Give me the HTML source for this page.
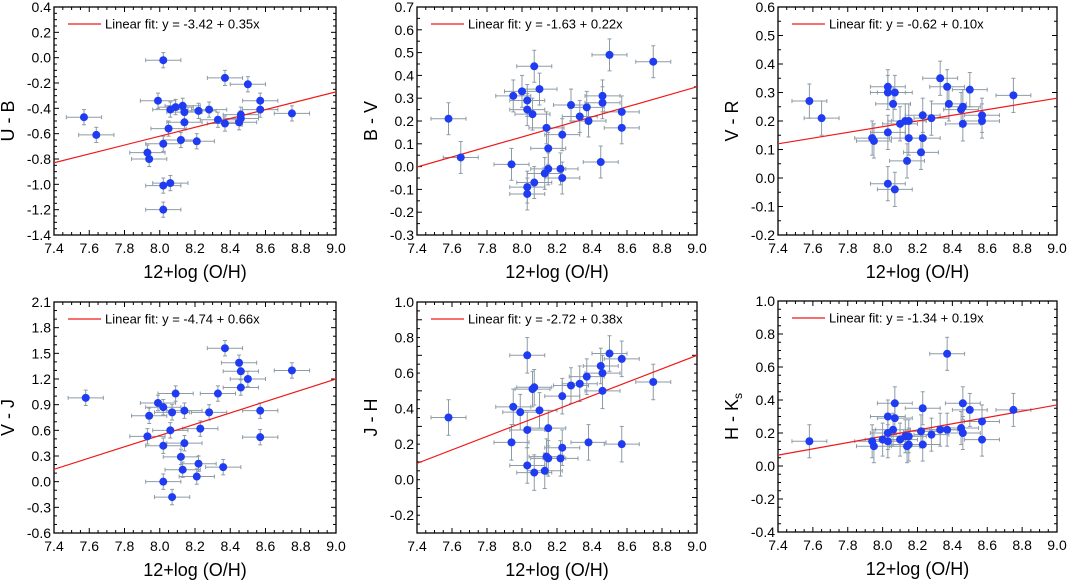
<!DOCTYPE html>
<html><head><meta charset="utf-8">
<style>
html,body{margin:0;padding:0;background:#fff;}
svg{display:block;font-family:"Liberation Sans",Arial,sans-serif;}
</style></head>
<body>
<svg id="fig" width="1068" height="582" viewBox="0 0 1068 582" xmlns="http://www.w3.org/2000/svg"></svg>
<script>
// ---- data ----
const ubX=[7.57,7.64,8.02,7.99,8.37,8.50,8.57,8.57,8.75,8.06,8.09,8.13,8.14,8.14,8.22,8.28,8.33,8.37,8.45,8.46,8.46,8.05,8.02,8.12,8.21,7.93,7.94,8.02,8.06,8.02];
const ubY=[-0.47,-0.61,-0.02,-0.34,-0.16,-0.21,-0.34,-0.41,-0.44,-0.41,-0.39,-0.38,-0.43,-0.51,-0.42,-0.41,-0.49,-0.52,-0.51,-0.45,-0.48,-0.56,-0.68,-0.65,-0.66,-0.75,-0.80,-1.01,-0.99,-1.20];
const bvX=[7.58,7.65,8.07,8.50,8.75,7.95,8.00,8.03,8.03,8.06,8.10,8.14,8.23,8.28,8.33,8.37,8.38,8.46,8.46,8.57,8.57,8.15,8.45,7.94,8.15,8.13,8.22,8.23,8.07,8.03,8.03];
const bvY=[0.21,0.04,0.44,0.49,0.46,0.31,0.33,0.29,0.25,0.23,0.34,0.17,0.14,0.27,0.22,0.26,0.20,0.31,0.28,0.24,0.17,0.08,0.02,0.01,-0.01,-0.03,-0.01,-0.05,-0.07,-0.09,-0.12];
const vrX=[7.58,7.65,8.03,8.03,8.07,8.06,7.94,7.95,8.03,8.10,8.13,8.15,8.15,8.14,8.23,8.23,8.22,8.28,8.33,8.37,8.38,8.45,8.46,8.46,8.50,8.57,8.57,8.75,8.03,8.07];
const vrY=[0.27,0.21,0.32,0.30,0.30,0.26,0.14,0.13,0.16,0.19,0.20,0.20,0.14,0.06,0.22,0.14,0.09,0.21,0.35,0.32,0.26,0.24,0.25,0.19,0.31,0.22,0.20,0.29,-0.02,-0.04];
const vjX=[7.58,8.37,8.45,8.46,8.50,8.75,8.46,8.33,8.09,7.99,8.02,8.07,8.14,8.28,7.94,8.57,8.06,8.23,7.93,8.57,8.02,8.14,8.12,8.22,8.36,8.13,8.21,8.02,8.07];
const vjY=[0.98,1.56,1.39,1.29,1.20,1.30,1.10,1.03,1.03,0.92,0.87,0.81,0.83,0.81,0.77,0.83,0.60,0.62,0.53,0.52,0.42,0.45,0.29,0.21,0.17,0.14,0.06,0.00,-0.18];
const jhX=[7.58,8.03,8.50,8.57,8.45,8.46,8.37,8.33,8.28,8.06,8.07,8.23,8.46,8.75,7.95,7.99,8.10,8.03,8.15,7.94,8.38,8.57,8.23,8.14,8.15,8.22,8.03,8.07,8.13];
const jhY=[0.35,0.70,0.71,0.68,0.64,0.60,0.58,0.54,0.53,0.51,0.52,0.47,0.50,0.55,0.41,0.38,0.39,0.28,0.29,0.21,0.21,0.20,0.18,0.13,0.12,0.12,0.08,0.04,0.05];
const hkX=[7.58,8.37,8.07,8.46,8.23,8.50,8.75,8.03,8.07,8.57,8.06,8.03,8.00,8.03,7.94,7.95,8.10,8.13,8.15,8.14,8.15,8.22,8.23,8.28,8.33,8.37,8.45,8.46,8.57];
const hkY=[0.15,0.68,0.38,0.38,0.35,0.34,0.34,0.30,0.29,0.27,0.22,0.20,0.16,0.15,0.15,0.12,0.16,0.18,0.18,0.12,0.13,0.21,0.13,0.19,0.22,0.22,0.23,0.20,0.16];
const xTicks=[7.4,7.6,7.8,8.0,8.2,8.4,8.6,8.8,9.0];
const ubTicks=[0.4,0.2,0.0,-0.2,-0.4,-0.6,-0.8,-1.0,-1.2,-1.4];
const bvTicks=[0.7,0.6,0.5,0.4,0.3,0.2,0.1,0.0,-0.1,-0.2,-0.3];
const vrTicks=[0.6,0.5,0.4,0.3,0.2,0.1,0.0,-0.1,-0.2];
const vjTicks=[2.1,1.8,1.5,1.2,0.9,0.6,0.3,0.0,-0.3,-0.6];
const jhTicks=[1.0,0.8,0.6,0.4,0.2,0.0,-0.2];
const hkTicks=[1.0,0.8,0.6,0.4,0.2,0.0,-0.2,-0.4];
const fitA=[-3.42,-1.63,-0.62,-4.74,-2.72,-1.34];
const fitB=[0.35,0.22,0.10,0.66,0.38,0.19];

const panels=[
 {name:'u-b',label:'U - B',xs:ubX,ys:ubY,ticks:ubTicks,ymin:-1.4,ymax:0.4,minor:0.05,yerr:0.06,L:54,R:336,T:7,B:235},
 {name:'b-v',label:'B - V',xs:bvX,ys:bvY,ticks:bvTicks,ymin:-0.3,ymax:0.7,minor:0.05,yerr:0.07,L:417,R:697,T:7,B:235},
 {name:'v-r',label:'V - R',xs:vrX,ys:vrY,ticks:vrTicks,ymin:-0.2,ymax:0.6,minor:0.05,yerr:0.06,L:778,R:1057,T:7,B:235},
 {name:'v-j',label:'V - J',xs:vjX,ys:vjY,ticks:vjTicks,ymin:-0.6,ymax:2.1,minor:0.1,yerr:0.09,L:54,R:336,T:302,B:533},
 {name:'j-h',label:'J - H',xs:jhX,ys:jhY,ticks:jhTicks,ymin:-0.3,ymax:1.0,minor:0.05,yerr:0.1,L:417,R:697,T:302,B:533},
 {name:'h-ks',label:'H - K',xs:hkX,ys:hkY,ticks:hkTicks,ymin:-0.4,ymax:1.0,minor:0.05,yerr:0.1,L:778,R:1057,T:301,B:532}
];
const NS='http://www.w3.org/2000/svg';
const svg=document.getElementById('fig');
function mk(tag,attrs,parent){const e=document.createElementNS(NS,tag);for(const k in attrs)e.setAttribute(k,attrs[k]);(parent||svg).appendChild(e);return e;}
function fmt(v){let s=Math.abs(v).toFixed(1);return (v< -1e-9?'-':'')+s;}

panels.forEach((p,pi)=>{
  const g=mk('g',{});
  
  
  const sx=v=>p.L+(v-7.4)/(9.0-7.4)*(p.R-p.L);
  const sy=v=>p.B-(v-p.ymin)/(p.ymax-p.ymin)*(p.B-p.T);
  const tk=mk('g',{stroke:'#000','stroke-width':1},g);
  
  
  for(let v=7.4;v<=9.0001;v+=0.05){
    const major=Math.abs(Math.round(v*5)-v*5)<1e-6;const l=major?5:3;const x=sx(v);
    mk('line',{x1:x,y1:p.B,x2:x,y2:p.B-l},tk);mk('line',{x1:x,y1:p.T,x2:x,y2:p.T+l},tk);
  }
  const step=p.ticks[0]-p.ticks[1];
  const nMinor=Math.round((p.ymax-p.ymin)/p.minor);
  for(let i=0;i<=nMinor;i++){
    const v=p.ymin+i*p.minor;const r=(v-p.ymin)/step;const major=Math.abs(r-Math.round(r))<1e-6;const l=major?5:3;const y=sy(v);
    mk('line',{x1:p.L,y1:y,x2:p.L+l,y2:y},tk);mk('line',{x1:p.R,y1:y,x2:p.R-l,y2:y},tk);
  }
  const fr=mk('rect',{x:p.L,y:p.T,width:p.R-p.L,height:p.B-p.T,fill:'none',stroke:'#000','stroke-width':1.3},g);
  
  
  xTicks.forEach(v=>{const t=mk('text',{x:sx(v),y:p.B+18,'font-size':14,'text-anchor':'middle',fill:'#000'},g);t.textContent=v.toFixed(1);
    
    });
  p.ticks.forEach(v=>{const t=mk('text',{x:p.L-3,y:sy(v)+5,'font-size':14,'text-anchor':'end',fill:'#000'},g);t.textContent=fmt(v);
    
    });
  const xt=mk('text',{x:(p.L+p.R)/2,y:p.B+43,'font-size':18,'text-anchor':'middle',fill:'#000'},g);
  xt.textContent='12+log (O/H)';
  
  
  const ycx=p.L-40, ycy=(p.T+p.B)/2;
  const yt=mk('text',{x:ycx,y:ycy,'font-size':18,'text-anchor':'middle',fill:'#000',transform:`rotate(-90 ${ycx} ${ycy})`},g);
  
  
  if(p.name==='h-ks'){yt.textContent='H - K';const s=mk('tspan',{'font-size':12,dy:4},yt);s.textContent='s';}
  else yt.textContent=p.label;
  const cp=mk('clipPath',{id:'c'+pi},g);mk('rect',{x:p.L,y:p.T,width:p.R-p.L,height:p.B-p.T},cp);
  const inner=mk('g',{'clip-path':`url(#c${pi})`},g);
  const eg=mk('g',{stroke:'#8d9ba6','stroke-width':1},inner);
  
  
  p.xs.forEach((xv,i)=>{const yv=p.ys[i];const xe=0.1;const ye=p.yerr;
    const x0=sx(xv-xe),x1=sx(xv+xe),y0=sy(yv-ye),y1=sy(yv+ye),cx=sx(xv),cy=sy(yv);
    mk('line',{x1:x0,y1:cy,x2:x1,y2:cy},eg);mk('line',{x1:x0,y1:cy-2,x2:x0,y2:cy+2},eg);mk('line',{x1:x1,y1:cy-2,x2:x1,y2:cy+2},eg);
    mk('line',{x1:cx,y1:y0,x2:cx,y2:y1},eg);mk('line',{x1:cx-2,y1:y0,x2:cx+2,y2:y0},eg);mk('line',{x1:cx-2,y1:y1,x2:cx+2,y2:y1},eg);
  });
  const fl=mk('line',{x1:sx(7.4),y1:sy(fitA[pi]+fitB[pi]*7.4),x2:sx(9.0),y2:sy(fitA[pi]+fitB[pi]*9.0),stroke:'#f01818','stroke-width':1.2},inner);
  
  
  p.xs.forEach((xv,i)=>{const c=mk('circle',{cx:sx(xv),cy:sy(p.ys[i]),r:4,fill:'#1f3cf2'},inner);
    
    });
  const lg=mk('g',{},g);
  
  
  mk('line',{x1:p.L+14,y1:p.T+17,x2:p.L+47,y2:p.T+17,stroke:'#f01818','stroke-width':1.2},lg);
  const lt=mk('text',{x:p.L+51,y:p.T+21.5,'font-size':13,fill:'#000'},lg);
  const a=fitA[pi],b=fitB[pi];
  lt.textContent='Linear fit: y = '+a.toFixed(2)+' + '+b.toFixed(2)+'x';
});
</script>
</body></html>
